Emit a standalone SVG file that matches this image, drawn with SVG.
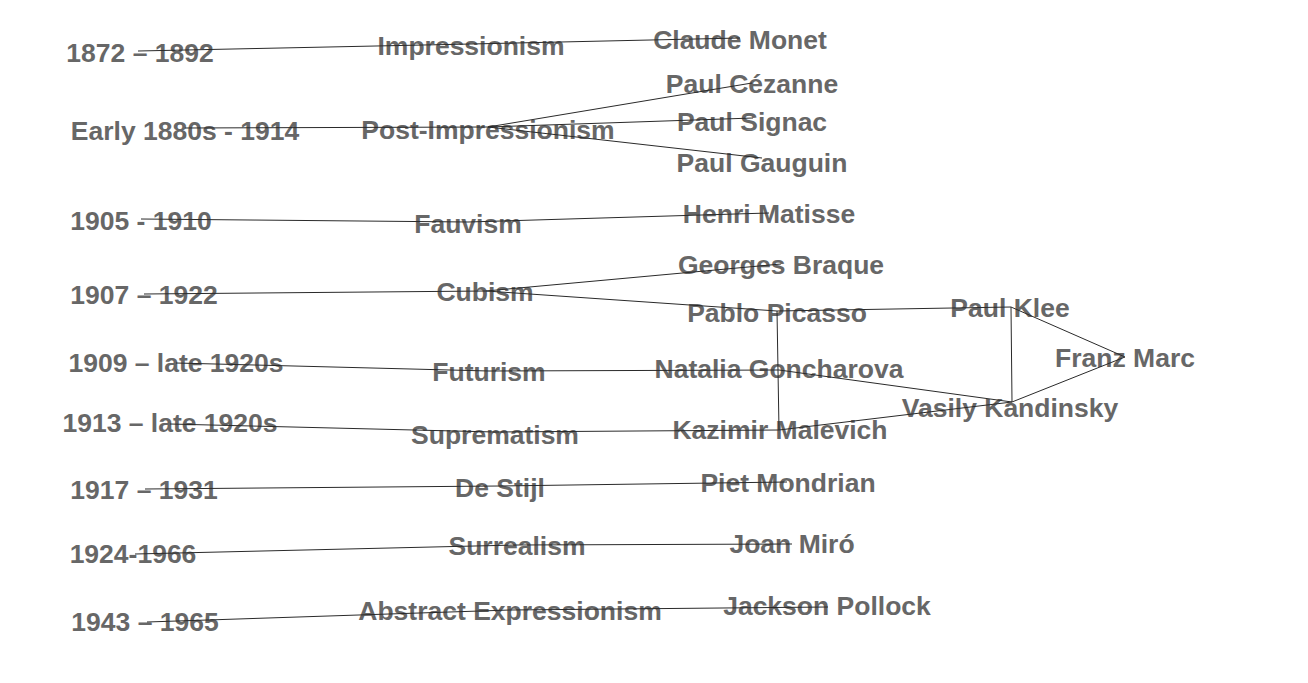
<svg xmlns="http://www.w3.org/2000/svg" width="1308" height="683" viewBox="0 0 1308 683">
<style>
text{font-family:"Liberation Sans",Arial,sans-serif;font-weight:bold;font-size:26.5px;fill:#676767;text-anchor:middle}
.e line{stroke:#2a2a2a;stroke-width:1}
</style>
<rect width="1308" height="683" fill="#fff"/>
<g id="nodes">
<g id="d1"><text x="140" y="62">1872 – 1892</text></g>
<g id="m1"><text x="471" y="55">Impressionism</text></g>
<g id="a1"><text x="740" y="49">Claude Monet</text></g>
<g id="d2"><text x="185" y="140">Early 1880s - 1914</text></g>
<g id="m2"><text x="488" y="139">Post-Impressionism</text></g>
<g id="a2"><text x="752" y="93">Paul Cézanne</text></g>
<g id="a3"><text x="752" y="131">Paul Signac</text></g>
<g id="a4"><text x="762" y="172">Paul Gauguin</text></g>
<g id="d3"><text x="141" y="230">1905 - 1910</text></g>
<g id="m3"><text x="468" y="233">Fauvism</text></g>
<g id="a5"><text x="769" y="223">Henri Matisse</text></g>
<g id="d4"><text x="144" y="304">1907 – 1922</text></g>
<g id="m4"><text x="485" y="301">Cubism</text></g>
<g id="a6"><text x="781" y="274">Georges Braque</text></g>
<g id="a7"><text x="777" y="322">Pablo Picasso</text></g>
<g id="a8"><text x="1010" y="317">Paul Klee</text></g>
<g id="a9"><text x="1125" y="367">Franz Marc</text></g>
<g id="d5"><text x="176" y="372">1909 – late 1920s</text></g>
<g id="m5"><text x="489" y="381">Futurism</text></g>
<g id="a10"><text x="779" y="378">Natalia Goncharova</text></g>
<g id="a11"><text x="1010" y="417">Vasily Kandinsky</text></g>
<g id="d6"><text x="170" y="432">1913 – late 1920s</text></g>
<g id="m6"><text x="495" y="444">Suprematism</text></g>
<g id="a12"><text x="780" y="439">Kazimir Malevich</text></g>
<g id="d7"><text x="144" y="499">1917 – 1931</text></g>
<g id="m7"><text x="500" y="497">De Stijl</text></g>
<g id="a13"><text x="788" y="492">Piet Mondrian</text></g>
<g id="d8"><text x="133" y="563">1924-1966</text></g>
<g id="m8"><text x="517" y="555">Surrealism</text></g>
<g id="a14"><text x="792" y="553">Joan Miró</text></g>
<g id="d9"><text x="145" y="631">1943 – 1965</text></g>
<g id="m9"><text x="510" y="620">Abstract Expressionism</text></g>
<g id="a15"><text x="827" y="615">Jackson Pollock</text></g>
</g>
<g id="connectors" class="e">
<line x1="138" y1="51" x2="471" y2="44"/>
<line x1="471" y1="44" x2="740" y2="38"/>
<line x1="185" y1="128" x2="488" y2="127"/>
<line x1="488" y1="127" x2="752" y2="83"/>
<line x1="488" y1="127" x2="753" y2="118"/>
<line x1="488" y1="127" x2="762" y2="158"/>
<line x1="141" y1="219" x2="468" y2="222"/>
<line x1="468" y1="222" x2="769" y2="213"/>
<line x1="144" y1="294" x2="486" y2="291"/>
<line x1="486" y1="291" x2="781" y2="264"/>
<line x1="486" y1="291" x2="777" y2="311"/>
<line x1="777" y1="311" x2="1011" y2="307"/>
<line x1="777" y1="311" x2="779" y2="430"/>
<line x1="1011" y1="307" x2="1012" y2="402"/>
<line x1="1011" y1="307" x2="1125" y2="357"/>
<line x1="1125" y1="357" x2="1012" y2="402"/>
<line x1="176" y1="363" x2="489" y2="371"/>
<line x1="489" y1="371" x2="779" y2="370"/>
<line x1="779" y1="370" x2="1012" y2="402"/>
<line x1="170" y1="424" x2="495" y2="432"/>
<line x1="495" y1="432" x2="779" y2="430"/>
<line x1="779" y1="430" x2="1012" y2="402"/>
<line x1="145" y1="489" x2="500" y2="486"/>
<line x1="500" y1="486" x2="787" y2="482"/>
<line x1="135" y1="554" x2="517" y2="545"/>
<line x1="517" y1="545" x2="792" y2="544"/>
<line x1="147" y1="622" x2="510" y2="610"/>
<line x1="510" y1="610" x2="828" y2="607"/>
</g>
</svg>
